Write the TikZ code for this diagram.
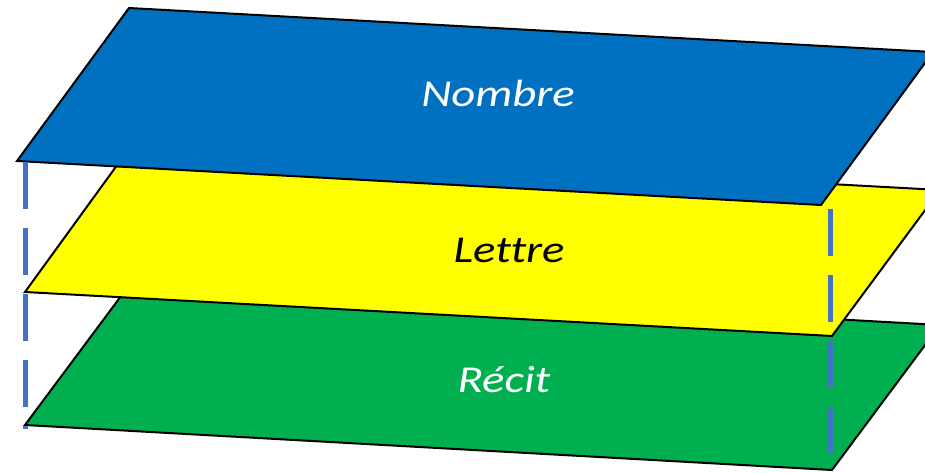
\documentclass[tikz,border=0pt]{standalone}
\usepackage{fontspec}
\usepackage{graphicx}
\setmainfont{Carlito}[Ligatures=NoCommon]
\definecolor{nblue}{HTML}{0070C0}
\definecolor{nyellow}{HTML}{FFFF00}
\definecolor{ngreen}{HTML}{00B050}
\definecolor{dashblue}{HTML}{4472C4}
\newcommand{\widetxt}[1]{\scalebox{1.23}[1]{#1}}
\begin{document}
\begin{tikzpicture}[x=1pt,y=-1pt,
  plane/.style={draw=black,line width=2pt,line join=miter},
  guide/.style={draw=dashblue,line width=5pt,dash pattern=on 47pt off 19pt},
  lbl/.style={font=\fontsize{38}{44}\selectfont\itshape,inner sep=0pt,anchor=base}]
\useasboundingbox (0,0) rectangle (925,473);
\clip (0,0) rectangle (925,473);
% green plane
\coordinate (gBL) at (25,425);
\coordinate (gTL) at (133,280);
\coordinate (gTR) at (940,325);
\coordinate (gBR) at (832,470);
% yellow plane
\coordinate (yBL) at (25,292);
\coordinate (yTL) at (131,146);
\coordinate (yTR) at (940,190);
\coordinate (yBR) at (832,336);
% blue plane
\coordinate (bBL) at (17,161);
\coordinate (bTL) at (129,8);
\coordinate (bTR) at (933,52);
\coordinate (bBR) at (821,205);
\path[plane,fill=ngreen] (gBL) -- (gTL) -- (gTR) -- (gBR) -- cycle;
\path[plane,fill=nyellow] (yBL) -- (yTL) -- (yTR) -- (yBR) -- cycle;
\path[plane,fill=nblue] (bBL) -- (bTL) -- (bTR) -- (bBR) -- cycle;
% dashed guides
\coordinate (lTop) at (25,162);
\coordinate (lBot) at (25,429);
\coordinate (rTop) at (830,209);
\coordinate (rBot) at (830,470);
\draw[guide] (lTop) -- (lBot);
\draw[guide] (rTop) -- (rBot);
% labels
\node[lbl,text=white] (nombre) at (498,107) {\widetxt{Nombre}};
\node[lbl,text=black] (lettre) at (509,262) {\widetxt{Lettre}};
\node[lbl,text=white] (recit) at (504,392) {\widetxt{Récit}};
\end{tikzpicture}
\end{document}
